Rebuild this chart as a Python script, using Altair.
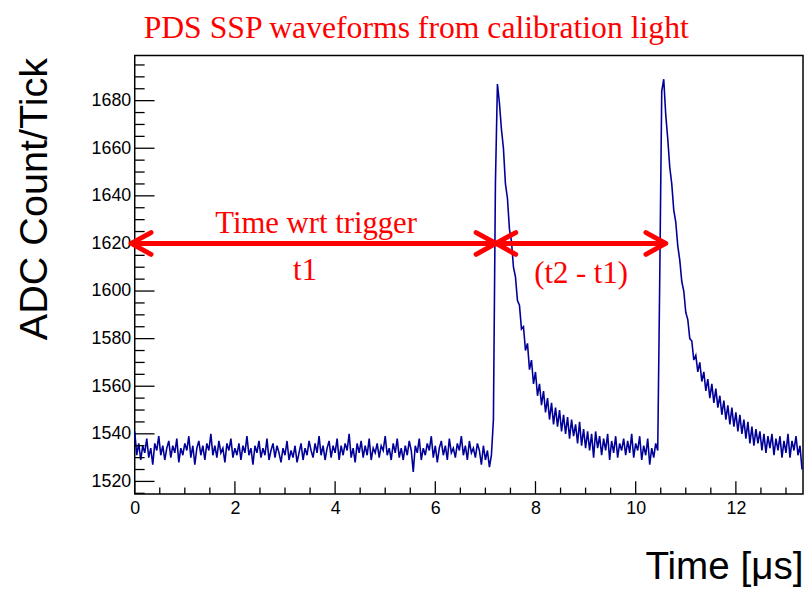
import altair as alt
import pandas as pd

adc_counts = [
    1541, 1531, 1536, 1529, 1535, 1532, 1538, 1530, 1534, 1527, 1536, 1533, 1539, 1531, 1535, 1529, 1534, 1537, 1530, 1535,
    1532, 1538, 1528, 1534, 1531, 1536, 1533, 1539, 1530, 1535, 1527, 1534, 1537, 1531, 1535, 1529, 1536, 1533, 1540, 1531,
    1535, 1530, 1537, 1532, 1534, 1528, 1536, 1533, 1538, 1530, 1534, 1531, 1536, 1529, 1535, 1532, 1539, 1531, 1534, 1527,
    1535, 1532, 1537, 1530, 1534, 1531, 1538, 1529, 1533, 1536, 1530, 1535, 1532, 1528, 1534, 1531, 1537, 1529, 1533, 1530,
    1535, 1528, 1532, 1536, 1529, 1534, 1531, 1537, 1533, 1530, 1536, 1532, 1539, 1531, 1535, 1529, 1534, 1537, 1530, 1535,
    1532, 1538, 1529, 1535, 1531, 1536, 1533, 1540, 1530, 1534, 1528, 1536, 1532, 1537, 1530, 1535, 1531, 1538, 1529, 1534,
    1532, 1536, 1530, 1535, 1533, 1539, 1531, 1534, 1529, 1536, 1532, 1538, 1530, 1534, 1529, 1535, 1531, 1537, 1533, 1524,
    1535, 1532, 1538, 1529, 1534, 1531, 1536, 1533, 1539, 1530, 1535, 1528, 1534, 1537, 1531, 1535, 1529, 1538, 1532, 1534,
    1530, 1536, 1533, 1539, 1531, 1535, 1529, 1537, 1532, 1534, 1530, 1536, 1533, 1527, 1535, 1529, 1533, 1526, 1531,
    1546, 1645, 1687, 1679, 1668, 1660, 1645, 1639, 1626, 1621, 1610, 1606, 1596, 1594, 1584, 1585, 1575, 1578, 1567, 1571,
    1561, 1566, 1556, 1561, 1552, 1558, 1549, 1555, 1546, 1553, 1544, 1551, 1543, 1550, 1541, 1548, 1540, 1547, 1538, 1546,
    1539, 1544, 1536, 1545, 1535, 1542, 1534, 1541, 1533, 1540, 1530, 1541, 1534, 1539, 1531, 1538, 1533, 1540, 1529, 1537,
    1532, 1539, 1530, 1536, 1533, 1538, 1531, 1537, 1532, 1540, 1530, 1536, 1533, 1539, 1529, 1535, 1531, 1538, 1527, 1534,
    1530, 1536, 1533, 1605, 1684, 1689, 1674, 1664, 1652, 1645, 1634, 1629, 1619, 1613, 1604, 1600, 1591, 1588, 1580, 1579,
    1571, 1573, 1566, 1570, 1562, 1566, 1558, 1563, 1555, 1561, 1553, 1559, 1551, 1556, 1548, 1554, 1546, 1552, 1544, 1551,
    1543, 1549, 1541, 1548, 1540, 1546, 1538, 1545, 1536, 1543, 1535, 1542, 1536, 1541, 1533, 1540, 1532, 1539, 1534, 1540,
    1531, 1538, 1533, 1539, 1530, 1537, 1532, 1540, 1530, 1537, 1533, 1539, 1531, 1535, 1525,
]
sample_step_us = 0.04
time_us = [round(i * sample_step_us, 2) for i in range(len(adc_counts))]

# ---- axis ticks ----
y_major = [1520, 1540, 1560, 1580, 1600, 1620, 1640, 1660, 1680]
y_minor = [1515, 1525, 1530, 1535, 1545, 1550, 1555, 1565, 1570, 1575, 1585, 1590, 1595,
           1605, 1610, 1615, 1625, 1630, 1635, 1645, 1650, 1655, 1665, 1670, 1675, 1685, 1690, 1695]
x_major = [0, 2, 4, 6, 8, 10, 12]
x_minor = [0.5, 1, 1.5, 2.5, 3, 3.5, 4.5, 5, 5.5, 6.5, 7, 7.5, 8.5, 9, 9.5,
           10.5, 11, 11.5, 12.5, 13]

# ---- annotation arrows ----
arrow_start = [-0.07, 7.21]
arrow_end = [7.21, 10.6]
arrow_level = [1620, 1620]
label_texts = ["Time wrt trigger", "t1", "(t2 - t1)"]
label_x = [3.62, 3.40, 8.91]

X_DOMAIN = [0, 13.34]
Y_DOMAIN = [1514.7, 1699.0]
W, H = 675, 443
RED = "#ff0000"
SERIF = "Liberation Serif"
SANS = "Liberation Sans"

xs = alt.Scale(domain=X_DOMAIN, nice=False, zero=False)
ys = alt.Scale(domain=Y_DOMAIN, nice=False, zero=False)

wave_df = pd.DataFrame({"t": time_us, "adc": adc_counts})
wave = alt.Chart(wave_df).mark_line(color="#000099", strokeWidth=1.6).encode(
    x=alt.X("t:Q", scale=xs, axis=alt.Axis(
        values=x_major, ticks=False, tickSize=0, domain=False, grid=False,
        labelFont=SANS, labelFontSize=18, labelColor="black", labelPadding=6,
        labelFlush=False, format="d",
        title="Time [μs]", titleFont=SANS, titleFontSize=39, titleFontWeight="normal",
        titleColor="black", titleAnchor="end", titleAlign="right",
        titleBaseline="alphabetic", titleX=W, titleY=85)),
    y=alt.Y("adc:Q", scale=ys, axis=alt.Axis(
        values=y_major, ticks=False, tickSize=0, domain=False, grid=False,
        labelFont=SANS, labelFontSize=18, labelColor="black", labelPadding=4,
        labelFlush=False, format="d",
        title="ADC Count/Tick", titleFont=SANS, titleFontSize=40, titleFontWeight="normal",
        titleColor="black", titleAngle=270, titleAlign="right", titleAnchor="end",
        titleBaseline="alphabetic", titleX=-89, titleY=2)),
)

ymaj = alt.Chart(pd.DataFrame({"v": y_major})).mark_rule(color="black", strokeWidth=1.3).encode(
    y=alt.Y("v:Q", scale=ys), x=alt.value(0), x2=alt.value(20))
ymin = alt.Chart(pd.DataFrame({"v": y_minor})).mark_rule(color="black", strokeWidth=1.3).encode(
    y=alt.Y("v:Q", scale=ys), x=alt.value(0), x2=alt.value(10))
xmaj = alt.Chart(pd.DataFrame({"v": x_major})).mark_rule(color="black", strokeWidth=1.3).encode(
    x=alt.X("v:Q", scale=xs), y=alt.value(H), y2=alt.value(H - 13))
xmin = alt.Chart(pd.DataFrame({"v": x_minor})).mark_rule(color="black", strokeWidth=1.3).encode(
    x=alt.X("v:Q", scale=xs), y=alt.value(H), y2=alt.value(H - 6.5))

arrows_df = pd.DataFrame({"a": arrow_start, "b": arrow_end, "lvl": arrow_level})
shaft = alt.Chart(arrows_df).mark_rule(color=RED, strokeWidth=5).encode(
    x=alt.X("a:Q", scale=xs), x2="b:Q",
    y=alt.Y("lvl:Q", scale=ys))
head_left = alt.Chart(arrows_df).mark_point(
    shape="M1,-0.55L0,0L1,0.55", filled=False, size=1600, strokeWidth=5,
    color=RED, opacity=1, strokeJoin="round", strokeCap="round").encode(
    x=alt.X("a:Q", scale=xs), y=alt.Y("lvl:Q", scale=ys))
head_right = alt.Chart(arrows_df).mark_point(
    shape="M-1,-0.55L0,0L-1,0.55", filled=False, size=1600, strokeWidth=5,
    color=RED, opacity=1, strokeJoin="round", strokeCap="round").encode(
    x=alt.X("b:Q", scale=xs), y=alt.Y("lvl:Q", scale=ys))

def label(i, dy):
    df = pd.DataFrame({"txt": [label_texts[i]], "x": [label_x[i]], "y": [arrow_level[0]]})
    return alt.Chart(df).mark_text(font=SERIF, fontSize=31, color=RED, align="center",
                                   baseline="alphabetic", dy=dy).encode(
        x=alt.X("x:Q", scale=xs), y=alt.Y("y:Q", scale=ys),
        text="txt:N")

chart = alt.layer(
    wave, ymaj, ymin, xmaj, xmin, shaft, head_left, head_right,
    label(0, -11), label(1, 37), label(2, 40),
).properties(
    width=W, height=H,
    title=alt.TitleParams(text="PDS SSP waveforms from calibration light", font=SERIF,
                          fontSize=32, fontWeight="normal", color=RED, anchor="start",
                          frame="group", dx=9, offset=-14, baseline="alphabetic"),
    padding={"left": 128, "top": 45, "right": 1, "bottom": 92},
    autosize=alt.AutoSizeParams(type="none"),
).configure_view(stroke="black", strokeWidth=1.5)

chart.save("out.html", embed_options={"renderer": "svg", "actions": False})
